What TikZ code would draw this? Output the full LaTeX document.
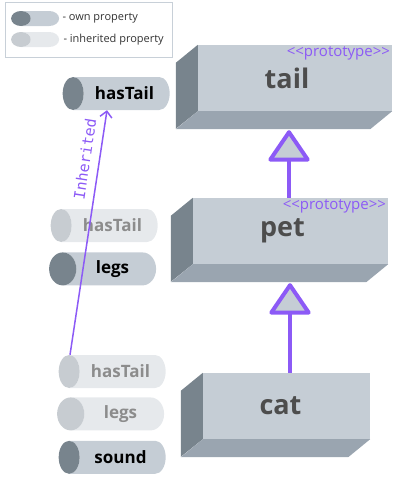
\documentclass[tikz,border=0pt]{standalone}
\usepackage{fontspec}
\setmainfont{Open Sans}
\newfontfamily\monofont{DejaVu Sans Mono}
\usetikzlibrary{arrows.meta,positioning,shapes.geometric,calc}
\definecolor{protopurple}{RGB}{140,90,246}
\definecolor{boxfront}{RGB}{197,205,213}
\definecolor{boxbottom}{RGB}{154,165,176}
\definecolor{boxside}{RGB}{120,132,141}
\definecolor{inhbody}{RGB}{230,233,236}
\definecolor{inhcap}{RGB}{199,204,209}
\definecolor{titlegray}{RGB}{77,77,77}
\definecolor{legendline}{RGB}{200,208,216}

\begin{document}
\begin{tikzpicture}[x=1pt, y=-1pt,
    proto/.style={rectangle, fill=boxfront, minimum width=#1, minimum height=66pt, inner sep=0pt, text=titlegray, font=\fontsize{27}{32}\selectfont\bfseries},
    stereo/.style={anchor=north east, inner sep=2pt, text=protopurple, font=\fontsize{15}{18}\selectfont},
    prop/.style={cylinder, shape border rotate=180, aspect=1.6, minimum height=107pt, minimum width=33pt, inner sep=0pt, cylinder uses custom fill, font=\fontsize{17}{20}\selectfont\bfseries, execute at begin node={\hspace*{6pt}}},
    own/.style={prop, cylinder body fill=boxfront, cylinder end fill=boxside, text=black},
    inh/.style={prop, cylinder body fill=inhbody, cylinder end fill=inhcap, text=black!45},
    key/.style={minimum height=48pt, minimum width=15pt, inner ysep=7pt, aspect=1.4},
    keytext/.style={inner sep=0pt, text=black!80, font=\fontsize{11}{13}\selectfont},
    inherit/.style={protopurple, line width=4pt, -{Triangle[width=44pt, length=33pt, fill=boxfront, round]}}]

\useasboundingbox (0,0) rectangle (408,480);

\node[draw=legendline, line width=0.8pt, minimum width=167pt, minimum height=55pt, inner sep=0pt] (legend) at (88.5,29.5) {};
\node[own, key] (ownkey) at (45,18.5) {};
\node[inh, key] (inhkey) at (45,39.5) {};
\node[keytext, right=3pt of ownkey] (ownkeytext) {- own property};
\node[keytext, right=4pt of inhkey] (inhkeytext) {- inherited property};

\node[proto=194pt] (tail) at (295,78) {\hspace*{-16pt}tail};
\node[proto=195pt] (pet) at (290.5,231) {\hspace*{-16pt}pet};
\node[proto=167pt] (cat) at (286.5,406) {\hspace*{-12pt}cat};

\foreach \b in {tail,pet,cat} {
  \fill[boxside] (\b.north west) -- ++(-22,18) -- ++(0,66) -- (\b.south west) -- cycle;
  \fill[boxbottom] (\b.south west) -- (\b.south east) -- ++(-22,18) -- ($(\b.south west)+(-22,18)$) -- cycle;
}

\node[stereo] (tailstereo) at (tail.north east) {{<}{<}prototype{>}{>}};
\node[stereo] (petstereo) at (pet.north east) {{<}{<}prototype{>}{>}};

\node[own] (tailhastail) at (121.5,93.5) {hasTail};
\node[inh] (pethastail) at (109.5,225.5) {hasTail};
\node[own, below=10pt of pethastail] (petlegs) {legs};
\node[inh] (cathastail) at (117.5,371.5) {hasTail};
\node[inh, below=9pt of cathastail] (catlegs) {legs};
\node[own, below=10pt of catlegs] (catsound) {sound};

\draw[inherit] ($(pet.north)+(-1.5,0)$) -- ($(tail.south)+(-6,19)$);
\draw[inherit] ($(cat.north)+(3.5,0)$) -- ($(pet.south)+(-0.5,19)$);

\draw[protopurple, line width=1.5pt, -{Straight Barb[length=6pt, width=12pt]}] ($(cathastail.north)+(-47.5,0)$) -- node[pos=0.79, sloped, above=8pt, inner sep=0pt, font={\fontsize{15}{18}\selectfont\monofont}] (inheritedlabel) {Inherited} ($(tailhastail.south)+(-14.5,0)$);

\end{tikzpicture}
\end{document}
